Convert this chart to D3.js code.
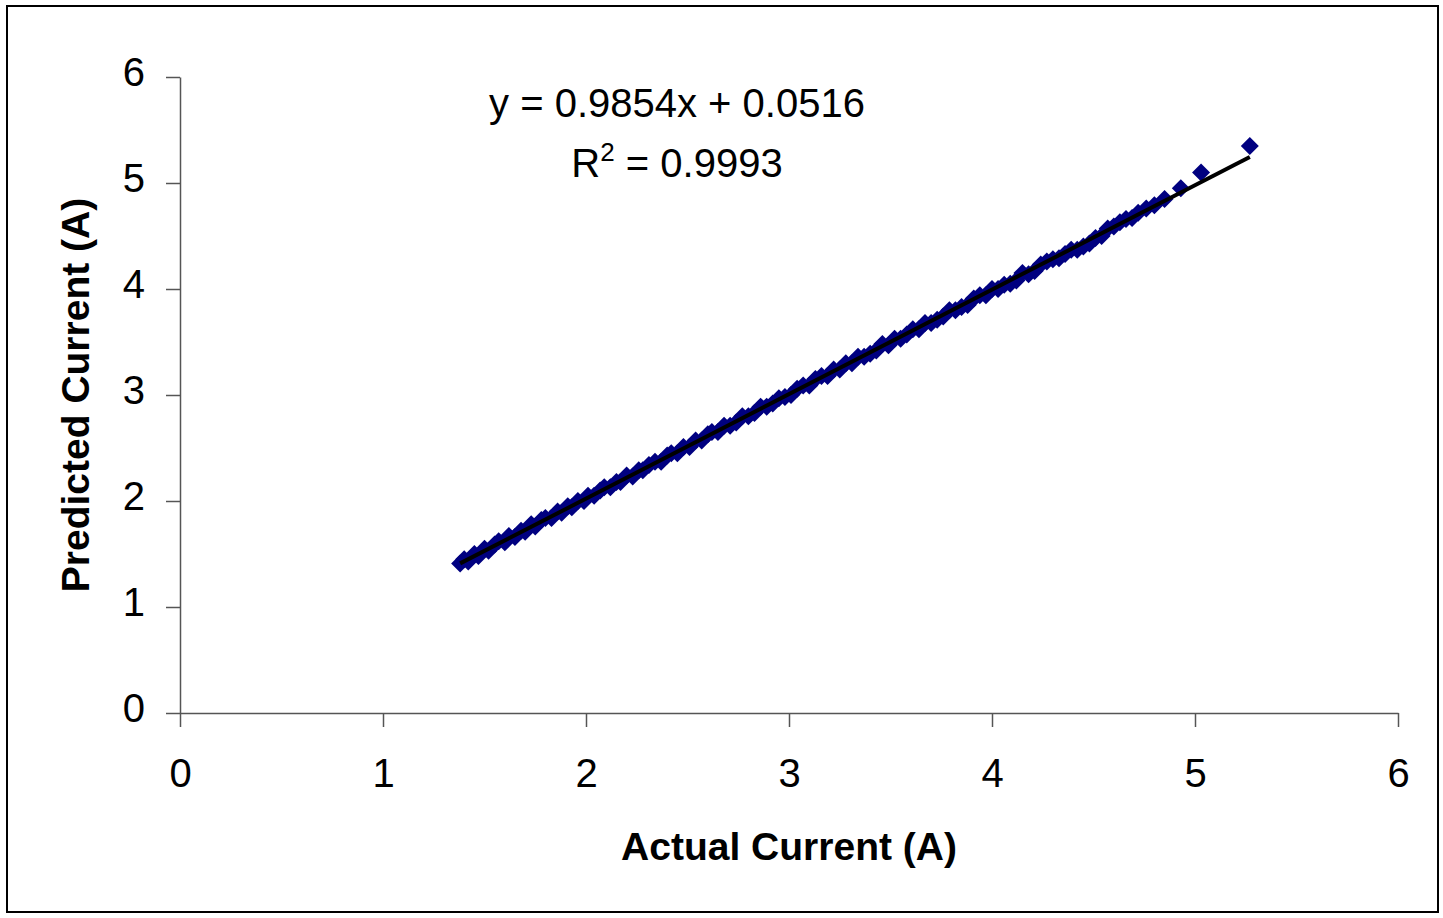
<!DOCTYPE html>
<html>
<head>
<meta charset="utf-8">
<script src="https://cdn.jsdelivr.net/npm/d3@7"></script>
<style>
  html, body { margin: 0; padding: 0; background: #fff; }
  svg { display: block; }
  text { font-family: "Liberation Sans", Arial, sans-serif; }
</style>
</head>
<body>
<svg id="chart" width="1443" height="918"></svg>
<script>
// ---- data ----
const actualCurrent = [
  1.38,1.40,1.42,1.45,1.47,1.50,1.52,1.55,1.57,1.60,1.62,1.65,1.68,1.70,1.73,1.75,1.78,1.80,1.83,1.86,
  1.88,1.91,1.93,1.96,1.99,2.01,2.04,2.07,2.09,2.12,2.15,2.17,2.20,2.23,2.26,2.28,2.31,2.34,2.37,2.40,
  2.42,2.45,2.48,2.51,2.54,2.57,2.60,2.62,2.65,2.68,2.71,2.74,2.77,2.80,2.83,2.86,2.89,2.92,2.95,2.98,
  3.01,3.04,3.07,3.10,3.13,3.16,3.19,3.22,3.25,3.28,3.31,3.34,3.37,3.40,3.43,3.46,3.49,3.52,3.55,3.58,
  3.61,3.64,3.67,3.70,3.73,3.76,3.79,3.82,3.85,3.88,3.91,3.94,3.97,4.00,4.03,4.06,4.09,4.12,4.15,4.18,
  4.21,4.24,4.27,4.30,4.33,4.36,4.39,4.42,4.45,4.48,4.51,4.54,4.57,4.60,4.63,4.66,4.69,4.72,4.76,4.80,
  4.85,4.93,5.03,5.27
];
const predictedCurrent = [
  1.41,1.45,1.43,1.50,1.48,1.55,1.53,1.59,1.62,1.61,1.67,1.66,1.72,1.71,1.78,1.76,1.82,1.84,1.84,1.90,
  1.89,1.95,1.94,2.00,2.00,2.05,2.05,2.10,2.13,2.13,2.18,2.18,2.24,2.23,2.29,2.29,2.34,2.37,2.37,2.43,
  2.45,2.45,2.51,2.51,2.57,2.57,2.63,2.65,2.65,2.71,2.71,2.74,2.80,2.80,2.83,2.89,2.89,2.92,2.97,2.98,
  3.00,3.06,3.09,3.09,3.15,3.18,3.18,3.24,3.24,3.30,3.30,3.36,3.36,3.39,3.42,3.48,3.47,3.53,3.53,3.57,
  3.62,3.62,3.68,3.68,3.71,3.74,3.80,3.80,3.83,3.85,3.91,3.94,3.94,4.00,4.00,4.04,4.05,4.08,4.15,4.14,
  4.17,4.23,4.26,4.28,4.29,4.33,4.37,4.37,4.40,4.43,4.48,4.50,4.57,4.59,4.63,4.66,4.67,4.72,4.76,4.79,
  4.85,4.95,5.10,5.35
];
const xTicks = [0, 1, 2, 3, 4, 5, 6];
const yTicks = [0, 1, 2, 3, 4, 5, 6];
const slope = 0.9854, intercept = 0.0516;
const equationText = "y = 0.9854x + 0.0516";
const r2Value = "0.9993";
const xTitle = "Actual Current (A)";
const yTitle = "Predicted Current (A)";

// ---- layout ----
const svg = d3.select("#chart");
const mLeft = 180, mRight = 1398, mTop = 77, mBottom = 713;
const x = d3.scaleLinear().domain([0, 6]).range([mLeft, mRight]);
const y = d3.scaleLinear().domain([0, 6]).range([mBottom, mTop]);

// outer border
svg.append("rect").attr("x", 7).attr("y", 6).attr("width", 1431).attr("height", 906)
  .attr("fill", "#fff").attr("stroke", "#000").attr("stroke-width", 2);

// axes
const axisColor = "#555";
const xAxis = svg.append("g").attr("transform", `translate(0,${mBottom})`)
  .call(d3.axisBottom(x).tickValues(xTicks).tickSize(14).tickSizeOuter(0).tickFormat(d3.format("d")));
const yAxis = svg.append("g").attr("transform", `translate(${mLeft},0)`)
  .call(d3.axisLeft(y).tickValues(yTicks).tickSize(14).tickSizeOuter(0).tickFormat(d3.format("d")));
[xAxis, yAxis].forEach(g => {
  g.select(".domain").attr("stroke", axisColor).attr("stroke-width", 1.5);
  g.selectAll(".tick line").attr("stroke", axisColor).attr("stroke-width", 1.5);
  g.selectAll(".tick text").attr("fill", "#000").attr("font-size", 40)
   .attr("font-family", "'Liberation Sans', Arial, sans-serif");
});
xAxis.selectAll(".tick text").attr("y", 0).attr("dy", 0).attr("transform", "translate(0,74)");
yAxis.selectAll(".tick text").attr("x", -35).attr("dy", "0.32em").attr("transform", "translate(0,-4)");

// points
const pts = actualCurrent.map((a, i) => [a, predictedCurrent[i]]);
svg.append("g").selectAll("path").data(pts).join("path")
  .attr("transform", d => `translate(${x(d[0])},${y(d[1])})`)
  .attr("d", "M0,-9L9,0L0,9L-9,0Z")
  .attr("fill", "#000080");

// trendline
const xMin = d3.min(actualCurrent), xMax = d3.max(actualCurrent);
const line = d3.line().x(d => x(d)).y(d => y(slope * d + intercept));
svg.append("path").datum([xMin, xMax]).attr("d", line)
  .attr("fill", "none").attr("stroke", "#000").attr("stroke-width", 4);

// equation
svg.append("text").attr("x", 677).attr("y", 117).attr("text-anchor", "middle")
  .attr("font-size", 40).text(equationText);
const r2 = svg.append("text").attr("x", 677).attr("y", 177).attr("text-anchor", "middle")
  .attr("font-size", 40);
r2.append("tspan").text("R");
r2.append("tspan").attr("dy", -16).attr("font-size", 26).text("2");
r2.append("tspan").attr("dy", 16).text(" = " + r2Value);

// axis titles
svg.append("text").attr("x", (mLeft + mRight) / 2).attr("y", 860).attr("text-anchor", "middle")
  .attr("font-size", 39).attr("font-weight", "bold").text(xTitle);
svg.append("text").attr("transform", `translate(89,${(mTop + mBottom) / 2}) rotate(-90)`)
  .attr("text-anchor", "middle").attr("font-size", 39).attr("font-weight", "bold").text(yTitle);
</script>
</body>
</html>
